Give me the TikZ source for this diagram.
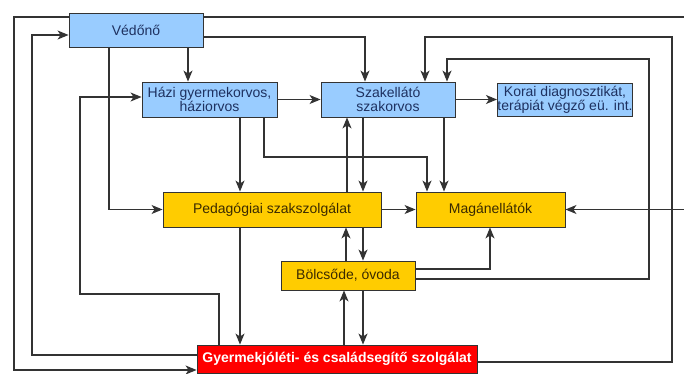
\documentclass[tikz,border=0pt]{standalone}
\usepackage{fontspec}
\setmainfont{Liberation Sans}
\usetikzlibrary{arrows.meta}
\definecolor{boxblue}{HTML}{99CCFF}
\definecolor{boxorange}{HTML}{FFCC00}
\definecolor{boxred}{HTML}{FF0000}
\definecolor{txtblue}{HTML}{1E3160}
\definecolor{txtbrown}{HTML}{3A2A00}
\definecolor{linecol}{HTML}{333333}
\begin{document}
\begin{tikzpicture}[x=1pt,y=-1pt,
  every node/.style={inner sep=0pt,font=\fontsize{14}{14}\selectfont,align=center},
  bluebox/.style={draw=linecol,line width=0.9pt,fill=boxblue,text=txtblue},
  orangebox/.style={draw=linecol,line width=0.9pt,fill=boxorange,text=txtbrown},
  redbox/.style={draw=linecol,line width=0.9pt,fill=boxred,text=white,font=\fontsize{14}{14}\selectfont\bfseries},
  conn/.style={draw=linecol,line width=1.1pt},
  arr/.style={conn,-{Stealth[length=11pt,width=9pt,inset=3pt]}}]
\useasboundingbox (0,0) rectangle (684,374);
\fill[white] (0,0) rectangle (684,374);
% nodes
\node[bluebox,minimum width=134pt,minimum height=34pt] (ved) at (136,30) {Védőnő};
\node[bluebox,minimum width=135pt,minimum height=35pt] (hazi) at (209.5,99.5) {Házi gyermekorvos,\\háziorvos};
\node[bluebox,minimum width=134pt,minimum height=35pt] (szak) at (388,99.5) {Szakellátó\\szakorvos};
\node[bluebox,minimum width=134pt,minimum height=33pt] (korai) at (565,99.5) {Korai diagnosztikát,\\terápiát végző eü. int.};
\node[orangebox,minimum width=218pt,minimum height=35pt] (ped) at (272,209.5) {Pedagógiai szakszolgálat};
\node[orangebox,minimum width=149pt,minimum height=35pt] (magan) at (490.5,209.5) {Magánellátók};
\node[orangebox,minimum width=134pt,minimum height=29pt] (bolcs) at (348,275.5) {Bölcsőde, óvoda};
\node[redbox,minimum width=280pt,minimum height=28pt] (gyj) at (337,359) {Gyermekjóléti- és családsegítő szolgálat};
% connectors
\draw[arr] (ved.west |- 0,17) -- (14,17) -- (14,370) -- (gyj.west |- 0,370);
\draw[conn] (ved.east |- 0,17) -- (684,17);
\draw[arr] (gyj.west |- 0,355) -- (32,355) -- (32,35) -- (ved.west |- 0,35);
\draw[arr] (gyj.north -| 219,0) -- (219,294) -- (80,294) -- (80,97) -- (hazi.west |- 0,97);
\draw[arr] (ved.south -| 188,0) -- (hazi.north -| 188,0);
\draw[arr] (ved.south -| 109,0) -- (109,209.5) -- (ped.west);
\draw[arr] (ved.east |- 0,37) -- (365,37) -- (szak.north -| 365,0);
\draw[arr] (hazi.east) -- (szak.west);
\draw[arr] (szak.east) -- (korai.west);
\draw[arr] (hazi.south -| 240,0) -- (ped.north -| 240,0);
\draw[arr] (hazi.south -| 264,0) -- (264,157) -- (427,157) -- (magan.north -| 427,0);
\draw[arr] (szak.south -| 444,0) -- (magan.north -| 444,0);
\draw[arr] (ped.north -| 347,0) -- (szak.south -| 347,0);
\draw[arr] (szak.south -| 363,0) -- (ped.north -| 363,0);
\draw[arr] (ped.east) -- (magan.west);
\draw[arr] (684,209.5) -- (magan.east);
\draw[arr] (ped.south -| 240,0) -- (gyj.north -| 240,0);
\draw[arr] (bolcs.north -| 346,0) -- (ped.south -| 346,0);
\draw[arr] (ped.south -| 363,0) -- (bolcs.north -| 363,0);
\draw[arr] (gyj.north -| 344,0) -- (bolcs.south -| 344,0);
\draw[arr] (bolcs.south -| 363,0) -- (gyj.north -| 363,0);
\draw[arr] (bolcs.east |- 0,269) -- (490,269) -- (magan.south -| 490,0);
\draw[arr] (bolcs.east |- 0,279) -- (649,279) -- (649,59) -- (447,59) -- (szak.north -| 447,0);
\draw[arr] (gyj.east |- 0,362) -- (672,362) -- (672,37) -- (425,37) -- (szak.north -| 425,0);
\end{tikzpicture}
\end{document}
